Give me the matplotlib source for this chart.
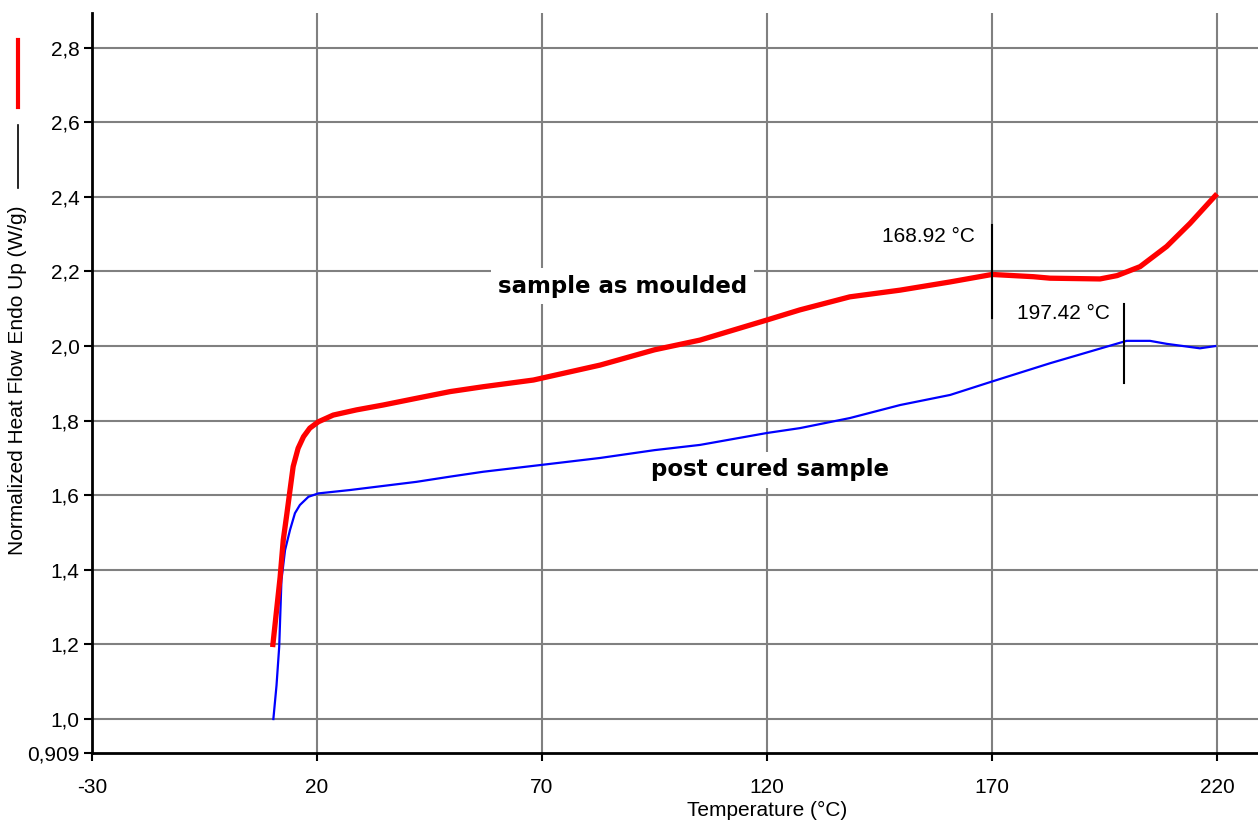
import matplotlib
matplotlib.use('Agg')
import matplotlib.pyplot as plt
from matplotlib.lines import Line2D

# curva rossa: campione come stampato
temp_moulded = [10.2, 11.8, 12.5, 13.3, 14.0, 14.7, 15.8, 17.0, 18.4, 20.3, 23.6, 28.8,
                34.7, 42.1, 49.6, 56.9, 68.1, 82.9, 95.0, 105.1, 120.0, 127.3, 138.4, 149.6,
                160.7, 170.0, 179.2, 182.9, 194.0, 197.8, 202.9, 208.8, 214.0, 219.6]
hf_moulded = [1.20, 1.38, 1.48, 1.55, 1.614, 1.677, 1.726, 1.757, 1.78, 1.797, 1.815, 1.829,
              1.842, 1.86, 1.878, 1.891, 1.909, 1.949, 1.99, 2.016, 2.07, 2.097, 2.132, 2.150,
              2.172, 2.192, 2.186, 2.182, 2.18, 2.189, 2.213, 2.267, 2.329, 2.403]

# curva blu: campione post-curato
temp_cured = [10.3, 11.0, 11.6, 12.1, 12.9, 14.0, 15.1, 16.2, 18.1, 20.3, 27.3, 34.7, 42.1,
              49.6, 56.9, 69.6, 82.9, 95.0, 105.1, 120.0, 127.3, 138.4, 149.6, 160.7, 170.0,
              182.9, 196.2, 199.9, 205.1, 208.8, 216.2, 219.6]
hf_cured = [1.0, 1.09, 1.194, 1.373, 1.453, 1.507, 1.552, 1.574, 1.596, 1.605, 1.614, 1.625, 1.636,
            1.65, 1.663, 1.681, 1.70, 1.721, 1.735, 1.767, 1.78, 1.807, 1.842, 1.869, 1.905,
            1.954, 2.001, 2.014, 2.014, 2.006, 1.994, 2.0]

# marcatori onset
onset_x = [170.0, 199.3]
onset_ylo = [2.075, 1.901]
onset_yhi = [2.325, 2.113]
onset_text = ['168.92 °C', '197.42 °C']
onset_text_pos = [(166.2, 2.293), (196.2, 2.086)]

xticks = [-30, 20, 70, 120, 170, 220]
yticks = [0.909, 1.0, 1.2, 1.4, 1.6, 1.8, 2.0, 2.2, 2.4, 2.6, 2.8]
ytick_labels = ['0,909', '1,0', '1,2', '1,4', '1,6', '1,8', '2,0', '2,2', '2,4', '2,6', '2,8']

plt.rcParams['font.family'] = ['Liberation Sans', 'DejaVu Sans']
plt.rcParams['axes.unicode_minus'] = False

W, H = 1258, 822
fig = plt.figure(figsize=(W / 100, H / 100), dpi=100)
ax = fig.add_axes([92 / W, (H - 753) / H, (W - 92) / W, (753 - 13) / H])

ax.set_xlim(-30, 229.1)
ax.set_ylim(0.909, 2.893)

# griglia
for x in xticks[1:]:
    ax.axvline(x, color='#808080', lw=1.5, zorder=1)
for y in yticks[1:]:
    ax.axhline(y, color='#808080', lw=1.5, zorder=1)

ax.plot(temp_cured, hf_cured, color='#0000ff', lw=1.6, zorder=3)
ax.plot(temp_moulded, hf_moulded, color='#ff0000', lw=3.8, zorder=3)

for i in range(len(onset_x)):
    ax.plot([onset_x[i], onset_x[i]], [onset_ylo[i], onset_yhi[i]], color='black', lw=1.5, zorder=4)
    ax.text(onset_text_pos[i][0], onset_text_pos[i][1], onset_text[i], ha='right', va='center',
            fontsize=15, zorder=5)

box = dict(facecolor='white', edgecolor='none', pad=5)
ax.text(87.8, 2.161, 'sample as moulded', ha='center', va='center', fontsize=16.5,
        fontweight='bold', family='DejaVu Sans', bbox=box, zorder=2)
ax.text(120.7, 1.668, 'post cured sample', ha='center', va='center', fontsize=16.5,
        fontweight='bold', family='DejaVu Sans', bbox=box, zorder=2)

ax.set_xticks(xticks)
ax.set_yticks(yticks)
ax.set_yticklabels(ytick_labels)
ax.tick_params(direction='out', length=6, width=1.5, color='black', labelsize=15)
ax.tick_params(axis='y', pad=3)
ax.tick_params(axis='x', pad=12)

for s in ['top', 'right']:
    ax.spines[s].set_visible(False)
for s in ['left', 'bottom']:
    ax.spines[s].set_linewidth(2)
    ax.spines[s].set_color('black')

fig.text(767 / W, 1 - 810 / H, 'Temperature (°C)', ha='center', va='center', fontsize=15)
fig.text(18 / W, 1 - 380 / H, 'Normalized Heat Flow Endo Up (W/g)', ha='center', va='center',
         rotation=90, fontsize=15)
# piccoli segni della legenda sull'asse y
fig.add_artist(Line2D([18 / W, 18 / W], [1 - 125 / H, 1 - 188 / H], color='black', lw=1.2))
fig.add_artist(Line2D([18 / W, 18 / W], [1 - 40 / H, 1 - 107 / H], color='#ff0000', lw=3))

fig.savefig('out.png', dpi=100)
